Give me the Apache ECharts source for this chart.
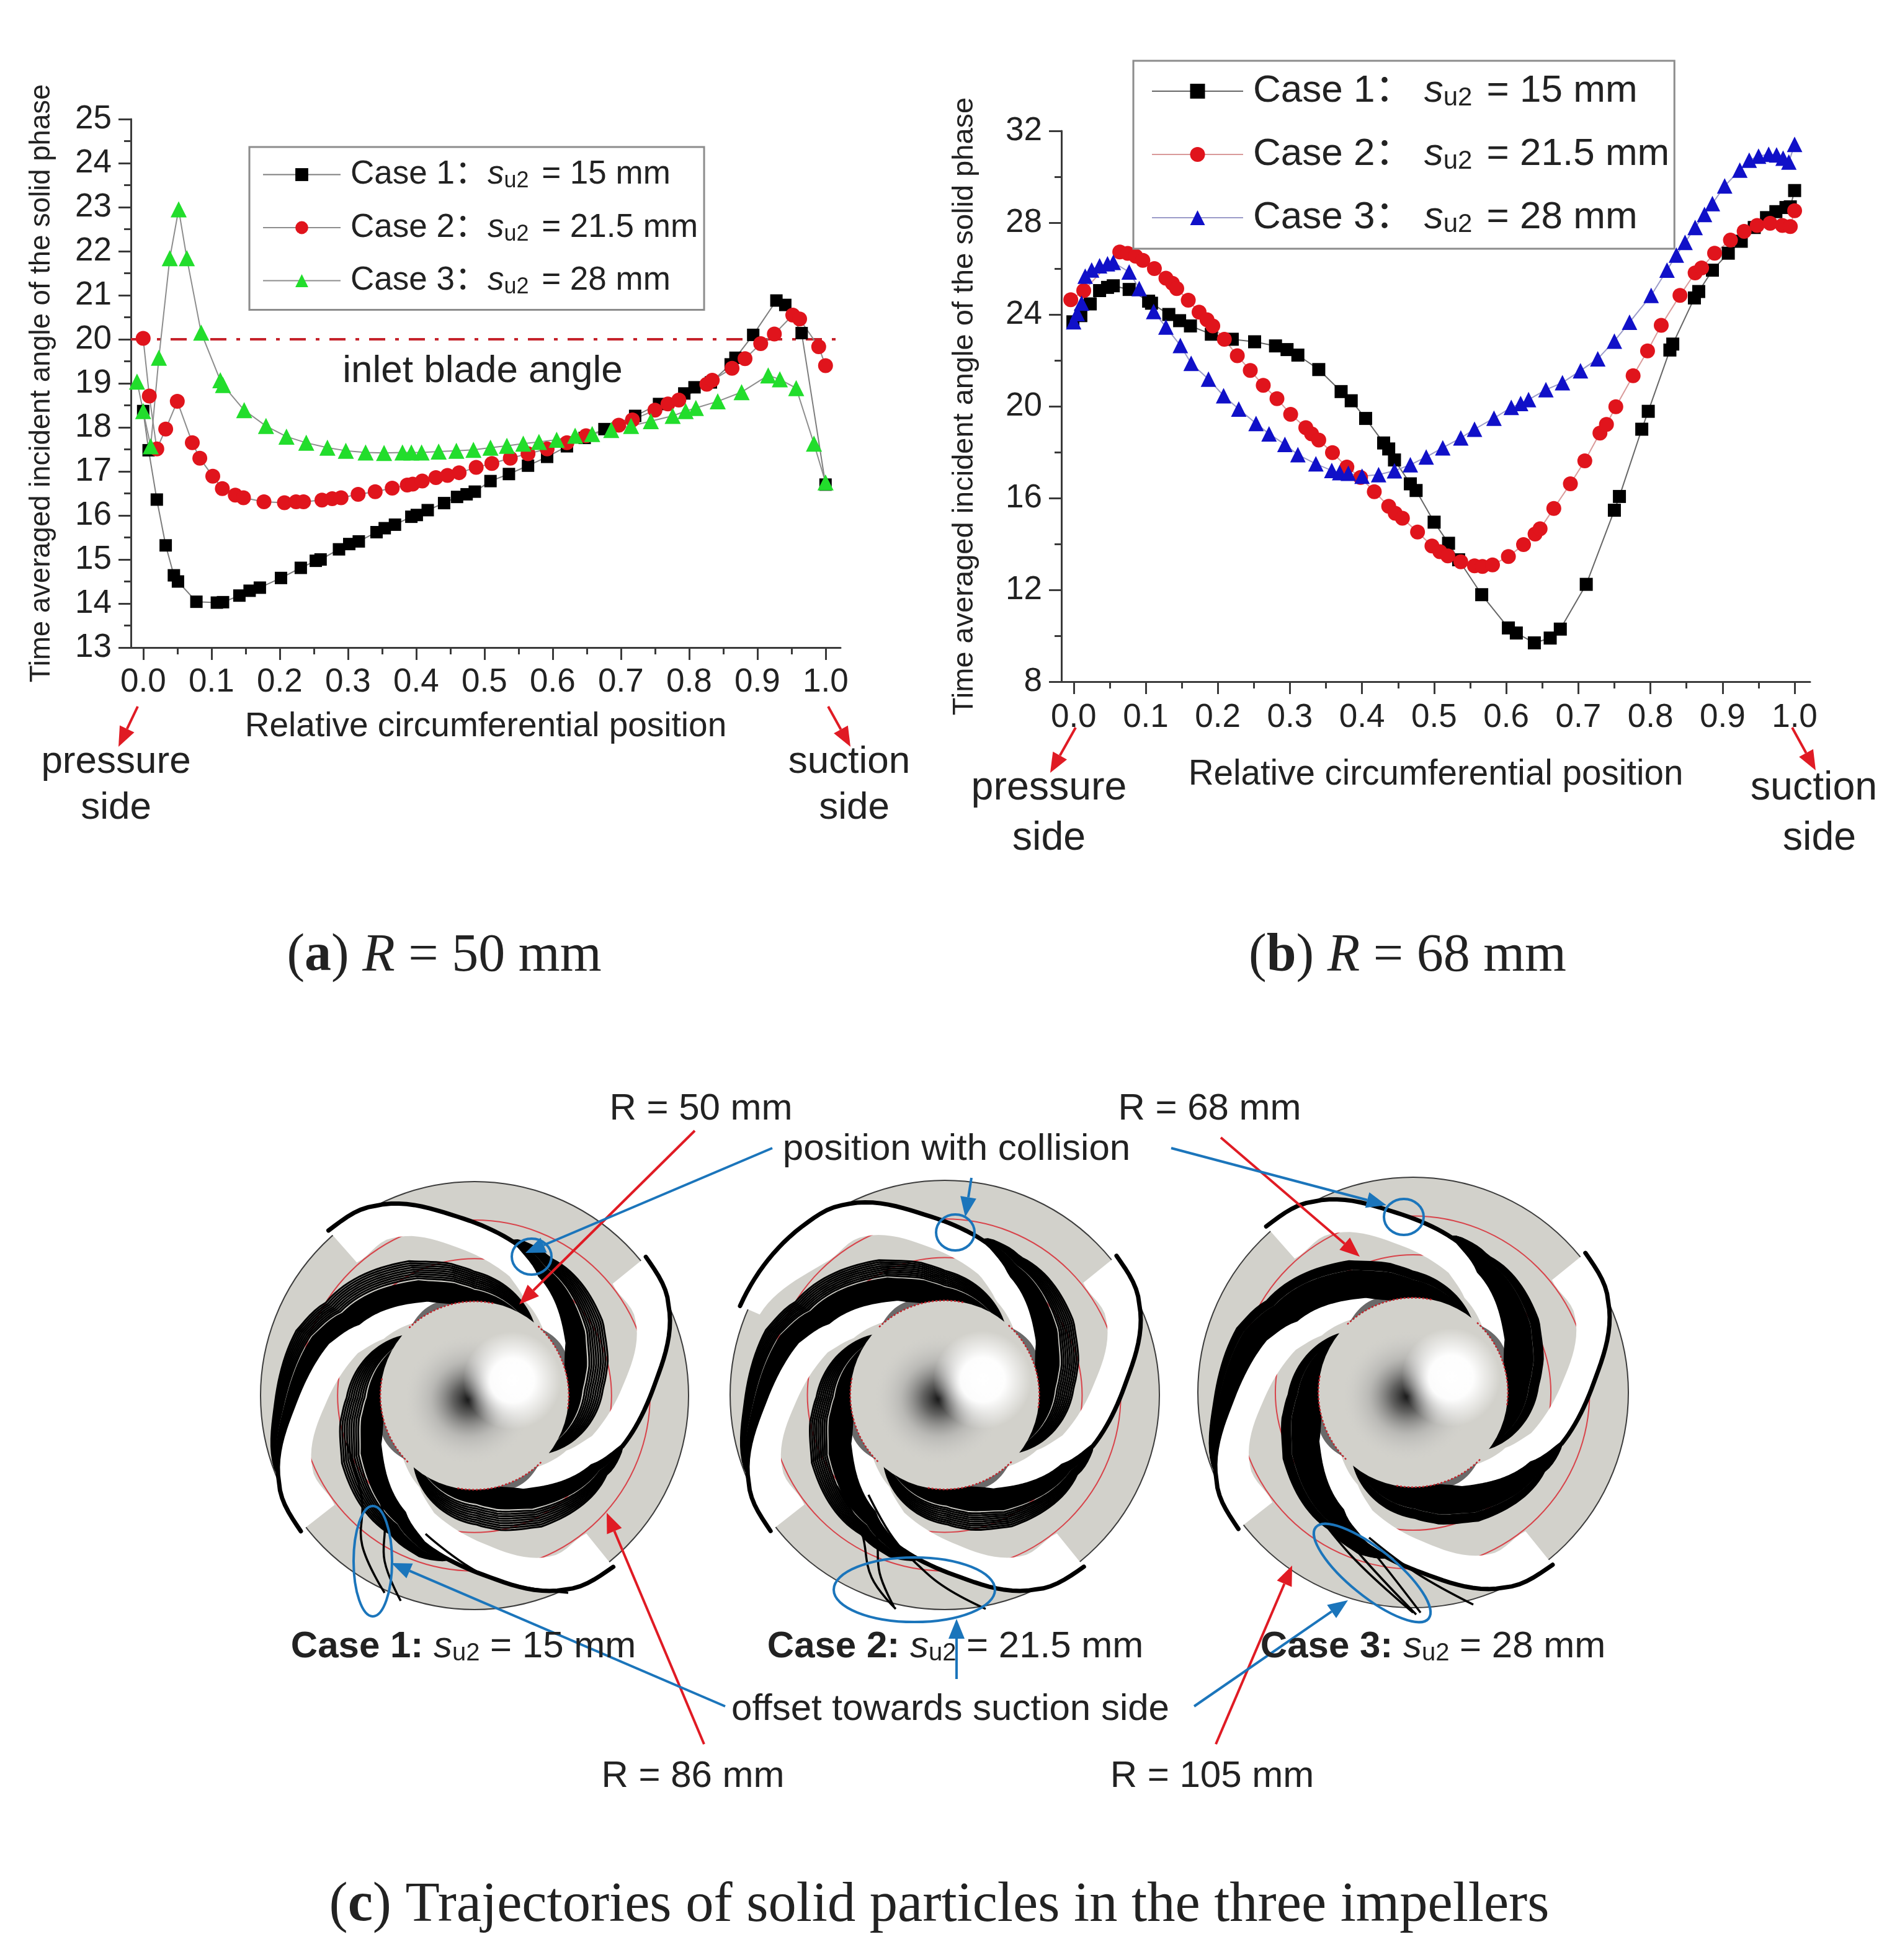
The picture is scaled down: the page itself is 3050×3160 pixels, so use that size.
<!DOCTYPE html>
<html>
<head>
<meta charset="utf-8">
<title>Incident angle of the solid phase</title>
<script src="https://cdn.jsdelivr.net/npm/echarts@6/dist/echarts.min.js"></script>
<style>
  html, body { margin: 0; padding: 0; background: #fff; }
  #chart { width: 3050px; height: 3160px; }
</style>
</head>
<body>
<div id="chart"></div>
<script>
// panel (a), R = 50 mm
const a1X = [0, .008, .02, .033, .045, .051, .078, .108, .117, .141, .156, .171, .202, .231, .253, .26, .287, .302, .316, .342, .354, .369, .393, .401, .417, .441, .46, .474, .486, .509, .536, .564, .592, .621, .647, .676, .721, .756, .793, .808, .832, .861, .868, .894, .928, .941, .965, 1];
const a1Y = [18.37, 17.48, 16.36, 15.32, 14.64, 14.5, 14.04, 14.02, 14.03, 14.18, 14.29, 14.36, 14.58, 14.81, 14.97, 15, 15.23, 15.35, 15.41, 15.62, 15.71, 15.79, 15.97, 16.01, 16.12, 16.28, 16.42, 16.48, 16.54, 16.78, 16.94, 17.13, 17.33, 17.57, 17.76, 17.96, 18.26, 18.53, 18.77, 18.91, 19.02, 19.43, 19.58, 20.1, 20.88, 20.78, 20.14, 16.7];
const a2X = [0, .009, .02, .033, .05, .072, .083, .102, .116, .135, .147, .177, .207, .224, .235, .262, .277, .29, .315, .34, .365, .387, .395, .409, .429, .446, .463, .488, .511, .538, .564, .592, .621, .649, .697, .717, .75, .769, .785, .826, .834, .863, .882, .905, .925, .952, .962, .99, 1];
const a2Y = [20.02, 18.71, 17.51, 17.96, 18.59, 17.65, 17.3, 16.89, 16.61, 16.46, 16.4, 16.31, 16.29, 16.31, 16.31, 16.35, 16.38, 16.4, 16.48, 16.54, 16.62, 16.69, 16.71, 16.78, 16.86, 16.91, 16.97, 17.09, 17.18, 17.3, 17.4, 17.51, 17.65, 17.81, 18.05, 18.17, 18.39, 18.53, 18.62, 18.98, 19.07, 19.34, 19.56, 19.9, 20.12, 20.55, 20.46, 19.83, 19.4];
const a3X = [-.009, 0, .011, .023, .039, .052, .064, .085, .113, .117, .148, .18, .21, .239, .27, .297, .326, .353, .38, .393, .408, .433, .459, .484, .509, .533, .557, .58, .606, .633, .658, .686, .715, .744, .776, .795, .81, .842, .877, .916, .933, .957, .983, 1];
const a3Y = [19.04, 18.37, 17.57, 19.58, 21.84, 22.95, 21.84, 20.15, 19.07, 18.96, 18.39, 18.03, 17.79, 17.65, 17.54, 17.47, 17.43, 17.42, 17.43, 17.43, 17.43, 17.45, 17.47, 17.49, 17.54, 17.58, 17.63, 17.67, 17.72, 17.81, 17.85, 17.94, 18.03, 18.14, 18.26, 18.37, 18.44, 18.59, 18.8, 19.18, 19.09, 18.89, 17.63, 16.75];

// panel (b), R = 68 mm
const b1X = [-.001, .01, .023, .036, .047, .055, .077, .104, .108, .132, .147, .162, .191, .22, .251, .28, .296, .311, .34, .371, .385, .405, .43, .437, .445, .467, .475, .5, .52, .534, .566, .603, .614, .639, .661, .675, .711, .75, .757, .788, .797, .827, .831, .861, .867, .886, .908, .926, .944, .961, .974, .988, .994, 1];
const b1Y = [23.68, 23.95, 24.46, 25.04, 25.18, 25.25, 25.09, 24.58, 24.49, 24, 23.73, 23.5, 23.14, 22.92, 22.81, 22.63, 22.47, 22.23, 21.6, 20.64, 20.24, 19.47, 18.4, 18.14, 17.66, 16.62, 16.33, 14.95, 14.03, 13.31, 11.79, 10.34, 10.12, 9.69, 9.9, 10.29, 12.24, 15.47, 16.07, 19, 19.78, 22.45, 22.71, 24.72, 25, 25.93, 26.67, 27.19, 27.79, 28.22, 28.48, 28.66, 28.69, 29.4];
const b2X = [-.004, .014, .064, .075, .086, .096, .112, .128, .137, .143, .159, .174, .185, .193, .209, .227, .245, .263, .282, .301, .322, .33, .34, .359, .379, .398, .417, .437, .446, .456, .477, .497, .508, .519, .537, .556, .567, .581, .603, .624, .64, .647, .666, .689, .709, .73, .739, .752, .776, .796, .815, .841, .862, .871, .889, .911, .93, .948, .966, .983, .994, 1];
const b2Y = [24.64, 25.04, 26.72, 26.66, 26.54, 26.36, 26, 25.58, 25.36, 25.13, 24.62, 24.1, 23.77, 23.5, 22.92, 22.2, 21.56, 20.91, 20.33, 19.65, 19.07, 18.8, 18.53, 17.98, 17.35, 16.9, 16.28, 15.64, 15.34, 15.12, 14.52, 13.91, 13.66, 13.48, 13.22, 13.05, 13.02, 13.09, 13.45, 13.97, 14.43, 14.66, 15.55, 16.62, 17.62, 18.83, 19.21, 19.98, 21.33, 22.41, 23.53, 24.83, 25.81, 26.03, 26.67, 27.24, 27.62, 27.88, 27.97, 27.88, 27.83, 28.52];
const b3X = [0, .005, .011, .016, .025, .036, .047, .055, .077, .091, .111, .128, .148, .163, .187, .208, .229, .253, .271, .293, .311, .336, .358, .369, .381, .4, .423, .445, .467, .489, .512, .537, .556, .583, .607, .62, .631, .655, .678, .703, .727, .75, .771, .801, .823, .836, .848, .862, .875, .886, .903, .924, .937, .95, .964, .975, .984, .992, 1];
const b3Y = [23.68, 24.04, 24.49, 25.67, 25.94, 26.12, 26.21, 26.27, 25.85, 25.13, 24.13, 23.45, 22.65, 21.87, 21.18, 20.46, 19.88, 19.25, 18.8, 18.34, 17.89, 17.49, 17.2, 17.11, 17.08, 16.95, 17.02, 17.19, 17.45, 17.79, 18.19, 18.62, 19, 19.48, 19.95, 20.12, 20.29, 20.72, 21.03, 21.55, 22.07, 22.84, 23.66, 24.83, 25.93, 26.59, 27.14, 27.79, 28.36, 28.83, 29.6, 30.29, 30.72, 30.9, 30.98, 30.95, 30.81, 30.64, 31.41];

const inletAngle = 20;
const spacings = ['15', '21.5', '28'];
const xMajorTicks = [0, .1, .2, .3, .4, .5, .6, .7, .8, .9, 1];
const xMinorTicks = [.05, .15, .25, .35, .45, .55, .65, .75, .85, .95];

const SANS = '"Liberation Sans", "Noto Sans CJK SC", sans-serif';
const SERIF = '"Liberation Serif", serif';
const AXIS = '#3a3a3a', TEXT = '#222';
const RED = '#e01b24', BLUE = '#1b75bb';

const zip = (xs, ys) => xs.map((x, i) => [x, ys[i]]);

function axisPair(gridIndex, min, max, nameSize, labelMargin, nameGap) {
  return [{
    type: 'value', gridIndex, min, max, position: 'bottom',
    name: 'Relative circumferential position', nameLocation: 'middle', nameGap,
    nameTextStyle: { fontFamily: SANS, fontSize: nameSize, color: TEXT },
    splitLine: { show: false },
    axisLine: { onZero: false, lineStyle: { color: AXIS, width: 3 } },
    axisTick: { length: 20, customValues: xMajorTicks, lineStyle: { color: AXIS, width: 3 } },
    axisLabel: { customValues: xMajorTicks, margin: labelMargin, fontFamily: SANS, fontSize: 53, color: TEXT,
      formatter: (v) => v.toFixed(1) },
  }, {
    // minor ticks only, second axis on the same grid
    type: 'value', gridIndex, min, max, position: 'bottom',
    splitLine: { show: false },
    axisLine: { show: false, onZero: false },
    axisLabel: { show: false },
    axisTick: { length: 11, customValues: xMinorTicks, lineStyle: { color: AXIS, width: 3 } },
  }];
}

function yAxisOf(gridIndex, min, max, interval, nameSize, nameGap) {
  return {
    type: 'value', gridIndex, min, max, interval, position: 'left',
    name: 'Time averaged incident angle of the solid phase', nameLocation: 'middle', nameGap,
    nameTextStyle: { fontFamily: SANS, fontSize: nameSize, color: TEXT },
    splitLine: { show: false },
    axisLine: { show: true, onZero: false, lineStyle: { color: AXIS, width: 3 } },
    axisTick: { show: true, length: 20, lineStyle: { color: AXIS, width: 3 } },
    minorTick: { show: true, splitNumber: 2, length: 11, lineStyle: { color: AXIS, width: 3 } },
    axisLabel: { margin: 31, fontFamily: SANS, fontSize: 53, color: TEXT },
  };
}

function caseSeries(name, xs, ys, xAxisIndex, yAxisIndex, symbol, symbolSize, color, lineColor) {
  return {
    name, type: 'line', xAxisIndex, yAxisIndex,
    data: zip(xs, ys),
    symbol, symbolSize,
    itemStyle: { color },
    lineStyle: { color: lineColor, width: 2 },
    silent: true,
  };
}

function legendOf(names, left, top, size, subSize, itemWidth, itemHeight, itemGap, padding, textGap, colonGap) {
  return {
    data: names, orient: 'vertical', left, top, padding, itemGap, itemWidth, itemHeight,
    borderColor: '#8c8c8c', borderWidth: 3, backgroundColor: '#fff', selectedMode: false,
    formatter: (name) => `{c|Case ${names.indexOf(name) + 1}：${colonGap}}{s|s}{u|u2}{t| = ${spacings[names.indexOf(name)]} mm}`,
    textStyle: {
      rich: {
        c: { fontFamily: SANS, fontSize: size, color: TEXT, padding: [0, 0, 0, textGap] },
        t: { fontFamily: SANS, fontSize: size, color: TEXT, padding: [0, 0, 0, 6] },
        s: { fontFamily: SANS, fontSize: size, fontStyle: 'italic', color: TEXT },
        u: { fontFamily: SANS, fontSize: subSize, color: TEXT, verticalAlign: 'bottom', padding: [22, 0, 0, 0] },
      },
    },
  };
}

// ---- drawing helpers for the text, arrows and impeller sketches

function label(text, x, y, fontSize, extra) {
  return { type: 'text', z: 20, style: Object.assign({
    text, x, y, fontFamily: SANS, fontSize, fill: TEXT, textAlign: 'center', textVerticalAlign: 'middle',
  }, extra) };
}

function caption(bold, r, rest, x, y, fontSize) {
  const plain = { fontFamily: SERIF, fontSize, color: '#111' };
  return label(`{p|(}{b|${bold}}{p|) }{i|${r}}{p|${rest}}`, x, y, fontSize, { rich: {
    p: plain,
    b: Object.assign({}, plain, { fontWeight: 'bold' }),
    i: Object.assign({}, plain, { fontStyle: 'italic' }),
  } });
}

function caseLabel(n, value, x, y) {
  const size = 60;
  return label(`{b|Case ${n}: }{s|s}{u|u2}{t| = ${value} mm}`, x, y, size, { rich: {
    b: { fontFamily: SANS, fontSize: size, fontWeight: 'bold', color: TEXT },
    s: { fontFamily: SANS, fontSize: size, fontStyle: 'italic', color: TEXT },
    u: { fontFamily: SANS, fontSize: 40, color: TEXT, verticalAlign: 'bottom', padding: [22, 0, 0, 0] },
    t: { fontFamily: SANS, fontSize: size, color: TEXT },
  } });
}

function arrow(x1, y1, x2, y2, color) {
  const len = Math.hypot(x2 - x1, y2 - y1);
  const ux = (x2 - x1) / len, uy = (y2 - y1) / len;
  const hl = 32, hw = 13;
  const bx = x2 - ux * hl, by = y2 - uy * hl;
  return [
    { type: 'line', z: 15, shape: { x1, y1, x2: bx, y2: by }, style: { stroke: color, lineWidth: 4 } },
    { type: 'polygon', z: 15, shape: { points: [[x2, y2], [bx - uy * hw, by + ux * hw], [bx + uy * hw, by - ux * hw]] }, style: { fill: color } },
  ];
}

function ring(cx, cy, rx, ry, rotation) {
  return { type: 'ellipse', z: 15, x: cx, y: cy, rotation: rotation || 0,
    shape: { cx: 0, cy: 0, rx, ry }, style: { fill: 'none', stroke: BLUE, lineWidth: 4 } };
}

// blade outline in polar form: t = degrees along the blade from its outer tip
const BLADE_T = [-25, 0, 14, 36, 58, 70, 102, 118, 128, 180];
const BLADE_R = [1.04, 1.03, 1, .84, .73, .64, .5, .44, .41, .38];
const BLADE_W = [.1, .2, .17, .15, .15, .14, .09, .03, 0, 0];
const BLADE_ANGLES = [-131.5, -39, 51, 142];
// where the particle tracks leave each blade line
const TRACK_START = [55, 58, 48, 16];

function interp(ts, vs, t) {
  if (t <= ts[0]) return vs[0];
  for (let i = 1; i < ts.length; i++) {
    if (t <= ts[i]) {
      const u = (t - ts[i - 1]) / (ts[i] - ts[i - 1]);
      const i0 = Math.max(i - 2, 0), i3 = Math.min(i + 1, ts.length - 1);
      const p0 = vs[i0], p1 = vs[i - 1], p2 = vs[i], p3 = vs[i3];
      return .5 * (2 * p1 + (p2 - p0) * u + (2 * p0 - 5 * p1 + 4 * p2 - p3) * u * u + (3 * p1 - p0 - 3 * p2 + p3) * u * u * u);
    }
  }
  return vs[vs.length - 1];
}

function polar(cx, cy, R, phiDeg, r) {
  const p = phiDeg * Math.PI / 180;
  return [cx + R * r * Math.cos(p), cy + R * r * Math.sin(p)];
}

function curve(cx, cy, R, phi0, t0, t1, rOf) {
  const pts = [];
  for (let t = t0; t <= t1; t += 2) pts.push(polar(cx, cy, R, phi0 + t, rOf(t)));
  return pts;
}

function impeller(cx, cy, R, opt) {
  const els = [];
  els.push({ type: 'circle', z: 5, shape: { cx, cy, r: R }, style: { fill: '#d2d1cb', stroke: '#3c3c3c', lineWidth: 2 } });
  // R = 68 and R = 86 guide circles
  [.64, .82].forEach((r) => {
    els.push({ type: 'circle', z: 5, shape: { cx, cy, r: R * r }, style: { fill: 'none', stroke: '#d8434a', lineWidth: 2 } });
  });

  BLADE_ANGLES.forEach((phi0, b) => {
    const t0 = (b === 0 ? opt.topStart : 0);
    const rb = (t) => interp(BLADE_T, BLADE_R, t);
    const wb = (t) => interp(BLADE_T, BLADE_W, t);
    // white passage under the blade line
    const outer = curve(cx, cy, R, phi0, t0, 128, rb);
    const inner = curve(cx, cy, R, phi0, t0, 128, (t) => rb(t) - wb(t)).reverse();
    els.push({ type: 'polygon', z: 6, shape: { points: outer.concat(inner) }, style: { fill: '#fff' } });
    // dark crescent where the passage meets the hub
    const lensOut = curve(cx, cy, R, phi0, 86, 122, (t) => .44 + .03 * Math.sin(Math.PI * (t - 86) / 36));
    const lensIn = curve(cx, cy, R, phi0, 86, 122, () => .43).reverse();
    els.push({ type: 'polygon', z: 7, shape: { points: lensOut.concat(lensIn) }, style: { fill: '#6a6a6a' } });
    // blade line
    els.push({ type: 'polyline', z: 8, shape: { points: curve(cx, cy, R, phi0, t0, 126, rb) },
      style: { fill: 'none', stroke: '#000', lineWidth: 7, lineCap: 'round' } });
    // particle tracks
    const tS = TRACK_START[b], tE = 176, n = 9;
    const band = (t) => opt.width * Math.pow(Math.sin(Math.PI * Math.min(1, (t - tS) / (tE - tS))), .8);
    const solid = curve(cx, cy, R, phi0, tS, tE, rb);
    const solidIn = curve(cx, cy, R, phi0, tS, tE, (t) => rb(t) + band(t) * opt.fill).reverse();
    els.push({ type: 'polygon', z: 8, shape: { points: solid.concat(solidIn) }, style: { fill: '#000' } });
    for (let k = 1; k <= n; k++) {
      const f = opt.fill + (1 - opt.fill) * k / n;
      els.push({ type: 'polyline', z: 8, shape: { points: curve(cx, cy, R, phi0, tS, tE, (t) => rb(t) + band(t) * f) },
        style: { fill: 'none', stroke: '#000', lineWidth: 3 } });
    }
  });

  // hub
  const hub = { cx, cy, r: R * .44 };
  els.push({ type: 'circle', z: 9, shape: hub, style: { fill: '#d2d1cb' } });
  els.push({ type: 'circle', z: 9, shape: hub, style: { fill: new echarts.graphic.RadialGradient(.47, .52, .34, [
    { offset: 0, color: 'rgba(20,20,20,1)' }, { offset: .25, color: 'rgba(70,70,70,.8)' }, { offset: .6, color: 'rgba(150,150,150,.4)' }, { offset: 1, color: 'rgba(200,200,200,0)' },
  ]) } });
  els.push({ type: 'circle', z: 9, shape: hub, style: { fill: new echarts.graphic.RadialGradient(.7, .42, .26, [
    { offset: 0, color: 'rgba(255,255,255,1)' }, { offset: .45, color: 'rgba(255,255,255,.97)' }, { offset: 1, color: 'rgba(255,255,255,0)' },
  ]) } });
  // dotted R = 50 edge on the track sides
  BLADE_ANGLES.forEach((phi0) => {
    els.push({ type: 'polyline', z: 10, shape: { points: curve(cx, cy, R, phi0, 84, 140, () => .44) },
      style: { fill: 'none', stroke: '#c3242b', lineWidth: 2.5, lineDash: [3, 3] } });
  });
  // offset tracks leaving the bundle
  opt.tails.forEach((pts) => {
    els.push({ type: 'polyline', z: 11, shape: { points: pts, smooth: .4 }, style: { fill: 'none', stroke: '#000', lineWidth: 3.5 } });
  });
  return els;
}

const tails1 = [
  [[559, 2326], [575, 2380], [584, 2422], [584, 2492], [620, 2568]],
  [[590, 2350], [610, 2410], [620, 2453], [620, 2517], [646, 2581]],
  [[686, 2473], [788, 2543], [916, 2568]],
];
const tails2 = [
  [[1349, 2396], [1375, 2440], [1390, 2473], [1405, 2543], [1444, 2594]],
  [[1360, 2390], [1400, 2440], [1413, 2473], [1418, 2536], [1441, 2590]],
  [[1400, 2410], [1440, 2480], [1487, 2530], [1528, 2562], [1589, 2594]],
];
const tails3 = [
  [[2100, 2410], [2180, 2510], [2278, 2600]],
  [[2125, 2425], [2200, 2515], [2283, 2603]],
  [[2145, 2420], [2220, 2510], [2290, 2600]],
  [[2207, 2479], [2283, 2536], [2375, 2587]],
];

const graphicEls = [
  label('inlet blade angle', 778, 599, 62),
  label('pressure', 187, 1229, 62), label('side', 187, 1303, 62),
  label('suction', 1369, 1229, 62), label('side', 1377, 1303, 62),
  label('pressure', 1691, 1271, 64.5), label('side', 1691, 1352, 64.5),
  label('suction', 2924, 1271, 64.5), label('side', 2933, 1352, 64.5),
  ...arrow(222, 1139, 191, 1204, RED), ...arrow(1335, 1139, 1371, 1204, RED),
  ...arrow(1734, 1173, 1693, 1246, RED), ...arrow(2889, 1173, 2927, 1242, RED),
  caption('a', 'R', ' = 50 mm', 716, 1542, 86),
  caption('b', 'R', ' = 68 mm', 2269, 1542, 86),
  caption('c', '', 'Trajectories of solid particles in the three impellers', 1514, 3073, 90.5),

  ...impeller(765, 2250, 345, { topStart: 0, width: .2, fill: .5, tails: tails1 }),
  ...impeller(1523, 2249, 346, { topStart: -25, width: .2, fill: .55, tails: tails2 }),
  ...impeller(2278, 2245, 347, { topStart: 0, width: .18, fill: .75, tails: tails3 }),

  label('R = 50 mm', 1130, 1788, 60), label('R = 68 mm', 1950, 1788, 60),
  label('position with collision', 1542, 1853, 60),
  label('offset towards suction side', 1532, 2756, 60),
  label('R = 86 mm', 1117, 2864, 60), label('R = 105 mm', 1954, 2864, 60),
  caseLabel(1, '15', 747, 2655), caseLabel(2, '21.5', 1540, 2655), caseLabel(3, '28', 2310, 2655),
  ring(857, 2026, 32, 29), ring(1540, 1987, 31, 29), ring(2263, 1962, 32, 29),
  ring(601, 2517, 31, 89), ring(1474, 2563, 130, 52), ring(2212, 2536, 117, 38, -39 * Math.PI / 180),
  ...arrow(1120, 1823, 837, 2103, RED), ...arrow(1968, 1834, 2192, 2026, RED),
  ...arrow(1135, 2812, 978, 2439, RED), ...arrow(1960, 2812, 2083, 2524, RED),
  ...arrow(1245, 1851, 847, 2020, BLUE), ...arrow(1566, 1899, 1556, 1962, BLUE), ...arrow(1888, 1851, 2235, 1943, BLUE),
  ...arrow(1169, 2751, 631, 2520, BLUE), ...arrow(1542, 2707, 1542, 2610, BLUE), ...arrow(1925, 2751, 2173, 2580, BLUE),
];

const namesA = ['Case 1 (a)', 'Case 2 (a)', 'Case 3 (a)'];
const namesB = ['Case 1 (b)', 'Case 2 (b)', 'Case 3 (b)'];

const option = {
  backgroundColor: '#fff',
  animation: false,
  tooltip: { show: false },
  grid: [
    { left: 211, top: 192, width: 1144, height: 852, containLabel: false },
    { left: 1711, top: 211, width: 1207, height: 888, containLabel: false },
  ],
  xAxis: [
    ...axisPair(0, -.018, 1.022, 55, 30, 100),
    ...axisPair(1, -.017, 1.0215, 56.5, 32, 122),
  ],
  yAxis: [
    yAxisOf(0, 13, 25, 1, 45.5, 121),
    yAxisOf(1, 8, 32, 4, 47, 132),
  ],
  legend: [
    legendOf(namesA, 402, 237, 53, 36, 125, 26, 30, [18, 10, 18, 21], 11, ''),
    legendOf(namesB, 1827, 98, 62, 42, 147, 30, 39, [18, 8, 18, 29], 11, ' '),
  ],
  series: [
    { name: 'inlet blade angle', type: 'line', xAxisIndex: 0, yAxisIndex: 0, data: [[-.018, inletAngle], [1.022, inletAngle]],
      symbol: 'none', silent: true, lineStyle: { color: '#c5222a', width: 4, type: [26, 16, 6, 16] } },
    caseSeries(namesA[0], a1X, a1Y, 0, 0, 'rect', 20, '#000', '#7d7d7d'),
    caseSeries(namesA[1], a2X, a2Y, 0, 0, 'circle', 24, '#e0141c', '#8d8d8d'),
    caseSeries(namesA[2], a3X, a3Y, 0, 0, 'triangle', 26, '#22dd2c', '#8d8d8d'),
    caseSeries(namesB[0], b1X, b1Y, 2, 1, 'rect', 21, '#000', '#666'),
    caseSeries(namesB[1], b2X, b2Y, 2, 1, 'circle', 24, '#e0141c', '#d99a9a'),
    caseSeries(namesB[2], b3X, b3Y, 2, 1, 'triangle', 25, '#1010c8', '#9a9ac8'),
  ],
  graphic: { elements: graphicEls },
};

const chart = echarts.init(document.getElementById('chart'), null, { renderer: 'canvas' });
chart.setOption(option);
window.addEventListener('resize', () => chart.resize());
</script>
</body>
</html>
